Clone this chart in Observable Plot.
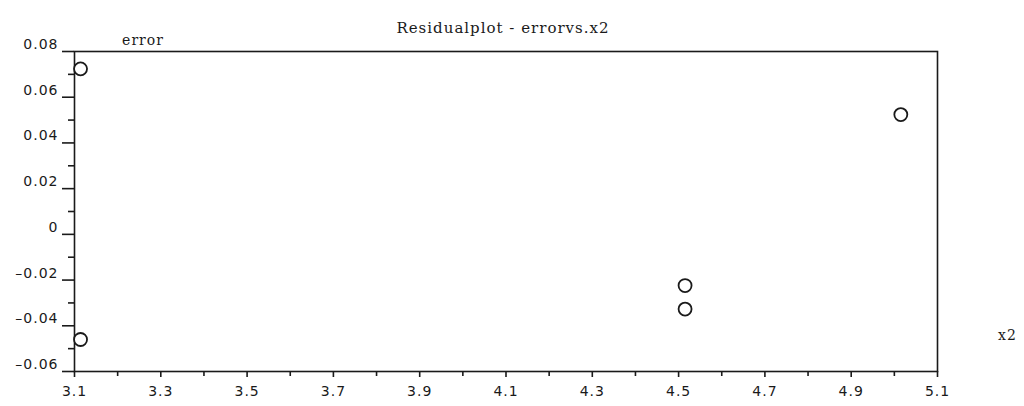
<!DOCTYPE html>
<html><head><meta charset="utf-8">
<script src="https://cdn.jsdelivr.net/npm/d3@7"></script>
<script src="https://cdn.jsdelivr.net/npm/@observablehq/plot@0.6"></script>
<style>body{margin:0;background:#fff}</style>
</head><body><div id="chart"></div>
<script>
const x2 = [3.114, 3.114, 4.515, 4.515, 5.015];
const error = [0.0724, -0.046, -0.0224, -0.0327, 0.0524];
const xTicks = [3.1, 3.3, 3.5, 3.7, 3.9, 4.1, 4.3, 4.5, 4.7, 4.9, 5.1];
const xTickLabels = ["3.1", "3.3", "3.5", "3.7", "3.9", "4.1", "4.3", "4.5", "4.7", "4.9", "5.1"];
const xMinorTicks = [3.2, 3.4, 3.6, 3.8, 4.0, 4.2, 4.4, 4.6, 4.8, 5.0];
const yTicks = [-0.06, -0.04, -0.02, 0, 0.02, 0.04, 0.06, 0.08];
const yTickLabels = ["\u20130.06", "\u20130.04", "\u20130.02", "0", "0.02", "0.04", "0.06", "0.08"];
const yMinorTicks = [-0.05, -0.03, -0.01, 0.01, 0.03, 0.05, 0.07];
const title = "Residualplot - errorvs.x2";
const yLabel = "error";
const xLabel = "x2";

const points = x2.map((x, i) => ({x2: x, error: error[i]}));
const ink = "#1a1a1a";

const chart = Plot.plot({
  width: 1024,
  height: 406,
  marginLeft: 74,
  marginRight: 87,
  marginTop: 51,
  marginBottom: 35,
  x: {domain: [3.1, 5.1]},
  y: {domain: [-0.06, 0.08]},
  style: {fontFamily: "'DejaVu Sans', sans-serif", fontSize: "14px", letterSpacing: "1px", color: ink, background: "#fff"},
  marks: [
    Plot.frame({stroke: ink, strokeWidth: 1.6}),
    Plot.axisY(yTicks, {tickSize: 12, fill: "none", stroke: ink, strokeWidth: 1.6, label: null}),
    Plot.axisY(yTicks, {tickSize: 0, tickPadding: 16, dy: -7, tickFormat: d => yTickLabels[yTicks.indexOf(d)], label: null}),
    Plot.axisY(yMinorTicks, {tickSize: 6, fill: "none", stroke: ink, strokeWidth: 1.6, label: null}),
    Plot.axisX(xTicks, {tickSize: 6, tickPadding: 9, stroke: ink, strokeWidth: 1.6, tickFormat: d => xTickLabels[xTicks.indexOf(d)], label: null}),
    Plot.axisX(xMinorTicks, {tickSize: 5, fill: "none", stroke: ink, strokeWidth: 1.6, label: null}),
    Plot.dot(points, {x: "x2", y: "error", r: 6.5, stroke: ink, strokeWidth: 1.8, fill: "white"}),
    Plot.text([title], {text: d => d, frameAnchor: "top", dx: -3, dy: -29, fontFamily: "'DejaVu Serif', serif", fontSize: 15}),
    Plot.text([yLabel], {text: d => d, frameAnchor: "top-left", dx: 68.5, dy: -16, textAnchor: "middle", fontFamily: "'DejaVu Serif', serif", fontSize: 14}),
    Plot.text([xLabel], {text: d => d, frameAnchor: "bottom-right", dx: 70, dy: -32, textAnchor: "middle", fontFamily: "'DejaVu Serif', serif", fontSize: 14})
  ]
});
document.getElementById("chart").appendChild(chart);
</script>
</body></html>
